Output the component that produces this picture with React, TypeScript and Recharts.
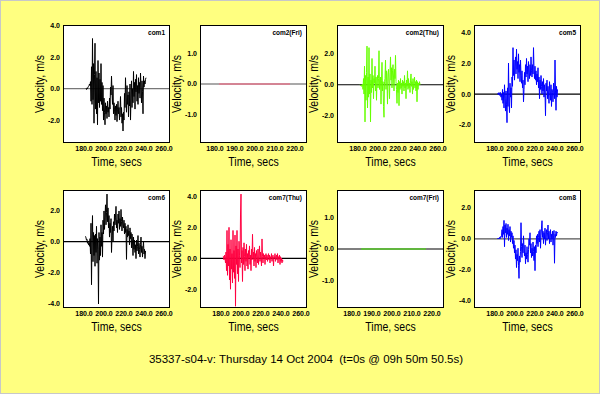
import React from 'react';
import { LineChart, Line, XAxis, YAxis, ReferenceLine, CartesianGrid } from 'recharts';

// sampled traces: start time (s), sample step (s), velocity values (m/s)
const DT = 0.5;

const com1Start = 182;
const com1 = [
  0, -0.05, 0.05, 0, 0.1, 0.15, 0.2, 0.3, 0.2, 0.45,
  -0.8, 1.4, -1.0, 3.2, -0.7, 1.6, -2.2, 0.9, 2.9, -1.3,
  1.1, -1.6, 0.7, -2.3, 1.8, -0.9, 1.0, -1.2, 0.6, -0.8,
  1.6, -1.0, 0.4, -1.4, 0.2, -2.0, -0.6, -1.5, -2.3, -0.9,
  -1.6, -1.1, -1.9, -0.8, -1.5, -1.2, -1.8, -0.6, -1.3, 0.1,
  -0.4, 0.8, -0.2, -1.0, 0.2, -1.6, -0.9, -1.3, -2.0, -1.1,
  -1.7, -1.0, -2.1, -1.3, -0.8, -1.6, -1.2, -2.0, -1.4, -0.5,
  -1.8, -1.2, -2.2, -1.6, -2.7, -1.5, -2.0, -0.3, -1.2, 0.7,
  -0.6, -1.5, 0.2, -1.0, -0.4, -1.8, -0.2, -1.1, 0.3, -2.0,
  -0.6, 0.5, -1.2, 0.0, -0.9, 1.1, -0.5, 0.4, -1.3, 0.6,
  -0.2, 0.9, -0.8, 0.2, -1.0, 0.7, -0.3, 0.4, -0.6, 1.0,
  0.1, -0.9, 0.5, -0.2, -1.6, 0.8, 0.1, 0.5, 0.3, 0.6,
  0.7,
];

const com2FriTimes = [182, 217.5];
const com2Fri = [0, 0];

const com2ThuStart = 182;
const com2Thu = [
  0, -0.05, -0.05, -0.1, 0, 0.05, -0.3, 0.4, -0.6, 1.2,
  -2.4, 0.6, -1.0, 0.8, 2.5, -1.5, 0.5, -0.8, 2.4, -0.6,
  0.7, -2.4, 0.3, -0.5, 1.7, -0.2, 0.6, -0.9, 0.4, 0.1,
  1.2, -0.4, 0.5, -1.0, 0.3, 0.6, -0.2, 0.4, 2.2, -0.3,
  0.1, 0.5, -1.25, 0.3, 1.45, -0.4, 0.2, -1.4, -2.1, 0.2,
  0.4, 1.6, -0.3, 0.9, 0.2, -1.25, 0.7, 1.0, 0.1, -0.9,
  0.8, 1.8, 0.3, 1.1, -0.2, 0.9, 1.3, 0.5, -0.4, 1.0,
  0.4, 1.9, 0.2, -0.3, -1.2, 0.1, -0.5, 0.3, -1.35, 0.2,
  -0.3, 0.4, -0.2, 0.1, -0.6, 0.3, -0.1, 0.2, -0.4, 0.6,
  -0.2, 0.1, -0.9, 0.3, -0.1, 0.9, -0.3, 0.4, -0.2, 0.1,
  -0.5, 0.3, 0.7, -0.1, 0.2, -0.6, 0.4, -0.3, 0.1, 0.5,
  -0.2, 0.2, -0.4, 0.3, -1.1, 0.2, -0.3, 0.1, 0.0, 0.2,
  0,
];

const com5Start = 182.5;
const com5 = [
  0, 0.05, -0.05, 0.1, 0, -0.1, 0.1, -0.2, 0, -0.4,
  0.3, -0.6, 0.1, -0.9, 0.6, -0.3, -1.1, 0.2, -0.7, -1.85,
  0.4, -0.8, 2.0, -0.5, -1.2, 0.7, -0.2, 0.4, -0.9, 1.1,
  0.5, 3.0, 1.2, 2.2, 0.9, 1.8, 2.4, 1.3, 2.9, 1.6,
  2.1, 1.0, 2.6, 1.4, 1.9, 0.8, 2.2, 1.2, 0.7, 1.5,
  0.4, 0.9, -0.5, 0.3, 1.4, 0.6, 1.9, 1.1, 2.3, 1.3,
  1.8, 0.8, 2.1, 1.4, 1.0, 1.9, 1.2, 2.4, 1.5, 1.1,
  1.9, 1.3, 3.0, 1.6, 1.0, 1.8, 0.9, 1.5, 0.6, 1.3,
  0.8, 1.7, 0.4, 1.1, -0.3, 0.9, 0.3, 1.2, 0.5, 0.0,
  0.8, 0.2, 1.0, -0.2, 0.6, 0.1, -1.4, 0.7, 0.2, 0.9,
  -0.3, 0.5, 0.0, -0.6, 0.8, 0.2, -0.4, 0.6, -0.8, 0.3,
  0.1, -0.5, 0.7, 0.0, -0.3, 2.2, 0.2, -1.05, 0.5, -0.2,
  0.3,
];

const com6Start = 181.5;
const com6 = [
  0.35, 0.25, 0.1, 0.15, -0.1, 0.05, -0.2, -0.1, -0.3, 0.2,
  -0.8, 1.2, -2.8, 0.3, 1.7, -1.3, 0.6, -0.9, 0.4, -1.6,
  0.5, -0.7, 1.0, -1.4, 0.2, -0.5, -4.05, 0.6, -1.2, 0.3,
  -0.9, 1.1, -0.3, 0.6, -1.0, 1.4, 0.5, 2.0, 0.8, 1.6,
  2.4, 1.1, 1.9, 3.1, 1.3, 2.2, 0.9, 1.7, 0.3, 1.2,
  0.6, 1.5, -0.7, 0.4, 1.0, 0.0, 1.3, 0.7, 1.8, 1.1,
  1.6, 2.3, 0.9, 1.4, 0.6, 1.8, 1.2, 2.0, 0.8, 1.5,
  1.0, 2.1, 1.3, 0.7, 1.6, 1.1, 0.9, 1.4, 0.5, 1.2,
  0.6, 1.0, -1.15, 0.8, 0.3, 1.1, 0.4, 0.7, -0.2, 0.9,
  0.2, 0.6, -0.4, 0.5, 0.0, -0.9, 0.3, -0.5, 0.1, -0.7,
  -0.2, -1.1, 0.1, -0.6, -0.3, 0.4, -0.8, -0.1, -0.5, -1.0,
  -0.2, 0.3, -0.7, -0.3, -1.0, -0.4, 0.0, -0.8, -0.5, -1.1,
  -0.6,
];

const com7ThuStart = 182;
const com7Thu = [
  0.15, 0.1, -0.1, 0.2, 0.0, -0.3, 0.4, -0.8, 1.8, -1.1,
  0.9, -0.5, 2.0, -1.4, 0.6, -2.0, 1.2, -0.7, 0.3, -1.6,
  1.8, -0.9, 0.5, -1.3, 1.5, -3.1, 0.8, -0.4, 1.8, -1.0,
  0.6, -1.5, 1.1, 0.2, -0.6, 2.8, 4.15, -0.3, 0.5, -1.5,
  0.7, -0.4, 1.0, 0.1, -0.8, 0.6, -0.2, 0.9, -0.5, 0.3,
  -0.7, 0.5, 0.0, 0.8, -0.4, 0.2, -0.8, 0.6, -0.1, 1.55,
  0.0, 0.4, -0.5, 0.7, -0.2, 0.3, -0.6, 0.5, 0.1, -0.3,
  0.6, -0.4, 0.2, 0.8, -0.2, 0.4, 0.0, -0.5, 1.25, 0.1,
  -0.3, 0.3, 0.0, 0.2, -0.4, 0.1, 0.3, -0.1, 0.2, -0.2,
  0.1, 0.3, -0.1, 0.2, -0.3, 0.1, 0.0, 0.3, -0.2, 0.1,
  0.2, -0.5, 0.1, 0.0, 0.3, -0.2, 0.1, 0.2, -0.1, 0.3,
  -0.3, 0.1, 0.0, 0.2, -0.4, 0.1, -0.2, 0.0, -0.3, -0.1,
  -0.2,
];

const com7FriTimes = [184.5, 217];
const com7Fri = [0, 0];

const com8Start = 182.5;
const com8 = [
  0, 0.05, 0, 0.05, 0.1, 0, 0.15, 0.1, 0.2, 0.6,
  0.1, 0.8, 0.3, 1.2, -0.5, 0.9, 0.4, 1.0, 0.1, 0.7,
  0.3, 0.95, -0.1, 0.6, 0.2, 0.8, -0.2, 0.5, 0.1, 0.4,
  -0.3, 0.2, -0.6, -0.1, -0.9, -0.4, -1.3, -0.7, -1.85, -1.0,
  -1.4, -0.6, -1.7, -2.55, -1.1, -1.5, -0.8, 1.05, -0.5, -1.2,
  -0.3, -0.9, 0.2, -0.6, -1.1, -0.4, -1.6, -0.9, -1.3, -0.5,
  -1.0, -1.5, -0.7, 0.0, -0.4, 0.4, -0.9, -0.3, -1.2, -0.6,
  -1.1, -0.2, -0.8, -1.4, -0.5, -2.05, -0.4, -0.9, 0.2, -0.3,
  0.3, -0.5, 0.1, 0.5, -0.2, 0.6, -0.6, 0.2, 0.7, 1.18,
  0.1, 0.5, -0.3, 0.4, 0.0, 0.7, -0.4, 0.3, 0.6, -0.1,
  0.4, 0.9, 0.0, 0.5, -0.3, 0.2, 0.6, -0.2, 0.3, 0.0,
  0.5, -0.4, 0.2, 0.55, -1.57, 0.3, 0.1, 0.5, 0.2, 0.45,
  0.4,
];

const wideTicks = [180, 200, 220, 240, 260];
const narrowTicks = [180, 190, 200, 210, 220];

const sampled = (start: number, vals: number[]) =>
  vals.map((v, i) => ({ t: start + i * DT, v }));
const paired = (times: number[], vals: number[]) =>
  vals.map((v, i) => ({ t: times[i], v }));

const PW = 105;
const PH = 116;
const YW = 40;
const XH = 14;
const MT = 6; // room above the plot for the top tick label
const MR = 14; // room on the right for the last x tick label
const FONT = "'Liberation Sans', Arial, sans-serif";
const TINY = 0.01; // mirror axes only draw tick marks, take no room

type PanelProps = {
  left: number;
  top: number;
  name: string;
  data: { t: number; v: number }[];
  color: string;
  xDomain: [number, number];
  xTicks: number[];
  yDomain: [number, number];
  yTicks: number[];
  zeroColor?: string;
};

function Panel({ left, top, name, data, color, xDomain, xTicks, yDomain, yTicks, zeroColor = '#000' }: PanelProps) {
  const tickStyle = { fontSize: 7, fill: '#000', fontFamily: FONT, fontWeight: 'bold' as const };
  return (
    <>
      <div style={{ position: 'absolute', left: left - YW, top: top - MT }}>
        <LineChart
          width={YW + PW + MR}
          height={MT + PH + XH}
          data={data}
          margin={{ top: MT, right: MR, left: 0, bottom: 0 }}
        >
          <XAxis xAxisId="bm" dataKey="t" type="number" orientation="bottom" mirror height={TINY}
            domain={xDomain} ticks={xTicks} tick={false} tickSize={4} axisLine={false}
            tickLine={{ stroke: '#000' }} allowDataOverflow />
          <XAxis xAxisId="top" dataKey="t" type="number" orientation="top" mirror height={TINY}
            domain={xDomain} ticks={xTicks} tick={false} tickSize={4} axisLine={false}
            tickLine={{ stroke: '#000' }} allowDataOverflow />
          <XAxis xAxisId="b" dataKey="t" type="number" orientation="bottom" height={XH}
            domain={xDomain} ticks={xTicks} tickSize={2} tickMargin={2} tickLine={false}
            axisLine={false} tick={tickStyle} interval={0}
            tickFormatter={(x: number) => x.toFixed(1)} allowDataOverflow />
          <YAxis yAxisId="lm" type="number" orientation="left" mirror width={TINY}
            domain={yDomain} ticks={yTicks} tick={false} tickSize={4} axisLine={false}
            tickLine={{ stroke: '#000' }} allowDataOverflow />
          <YAxis yAxisId="r" type="number" orientation="right" mirror width={TINY}
            domain={yDomain} ticks={yTicks} tick={false} tickSize={4} axisLine={false}
            tickLine={{ stroke: '#000' }} allowDataOverflow />
          <YAxis yAxisId="l" type="number" orientation="left" width={YW}
            domain={yDomain} ticks={yTicks} tickSize={2} tickMargin={2} tickLine={false}
            axisLine={false} tick={tickStyle} interval={0}
            tickFormatter={(y: number) => y.toFixed(1)} allowDataOverflow />
          <CartesianGrid xAxisId="b" yAxisId="l" fill="#fff" fillOpacity={1}
            horizontal={false} vertical={false} />
          <ReferenceLine xAxisId="b" yAxisId="l" y={0} stroke={zeroColor} strokeWidth={1.2} />
          <Line xAxisId="b" yAxisId="l" dataKey="v" type="linear" stroke={color} strokeWidth={1}
            dot={false} isAnimationActive={false} />
        </LineChart>
      </div>
      {/* plot frame */}
      <div style={{
        position: 'absolute', left: left - 1, top: top - 1, width: PW, height: PH,
        border: '1px solid #000', pointerEvents: 'none',
      }} />
      <div style={{
        position: 'absolute', left: left, width: PW - 4, top: top + 3, textAlign: 'right',
        fontFamily: FONT, fontWeight: 'bold', fontSize: 6.5, lineHeight: '8px',
      }}>{name}</div>
      <div style={{
        position: 'absolute', left: left, width: PW, top: top + PH + 13, textAlign: 'center',
        fontFamily: FONT, fontSize: 12.5, lineHeight: '15px', transform: 'scaleX(0.84)',
      }}>Time, secs</div>
      <div style={{
        position: 'absolute', left: left - 24 - 60, top: top + PH / 2 - 8, width: 120, height: 16,
        textAlign: 'center', transform: 'rotate(-90deg) scaleX(0.84)', transformOrigin: '60px 8px',
        fontFamily: FONT, fontSize: 12.5, lineHeight: '16px',
      }}>Velocity, m/s</div>
    </>
  );
}

const WIDE: [number, number] = [160, 265];
const NARROW: [number, number] = [173, 225.5];

export default function App() {
  return (
    <div style={{
      position: 'absolute', left: 0, top: 0, width: 598, height: 392,
      background: '#ffff80', border: '1px solid #c8c8c8', overflow: 'hidden',
    }}>
      <Panel left={63} top={25} name="com1" data={sampled(com1Start, com1)} color="#000"
        xDomain={WIDE} xTicks={wideTicks} yDomain={[-3.4, 4]} yTicks={[-2, 0, 2, 4]} zeroColor="#777" />
      <Panel left={200} top={25} name="com2(Fri)" data={paired(com2FriTimes, com2Fri)} color="#ff6080"
        xDomain={NARROW} xTicks={narrowTicks} yDomain={[-1.88, 1.88]} yTicks={[-1, 0, 1]} zeroColor="#555" />
      <Panel left={337} top={25} name="com2(Thu)" data={sampled(com2ThuStart, com2Thu)} color="#66ff00"
        xDomain={WIDE} xTicks={wideTicks} yDomain={[-3.7, 3.8]} yTicks={[-2, 0, 2]} />
      <Panel left={474} top={25} name="com5" data={sampled(com5Start, com5)} color="#0000ff"
        xDomain={WIDE} xTicks={wideTicks} yDomain={[-3.1, 4.4]} yTicks={[-2, 0, 2, 4]} />
      <Panel left={63} top={190} name="com6" data={sampled(com6Start, com6)} color="#000"
        xDomain={WIDE} xTicks={wideTicks} yDomain={[-4.25, 3.3]} yTicks={[-4, -2, 0, 2]} />
      <Panel left={200} top={190} name="com7(Thu)" data={sampled(com7ThuStart, com7Thu)} color="#ff0040"
        xDomain={WIDE} xTicks={wideTicks} yDomain={[-3.15, 4.35]} yTicks={[-2, 0, 2, 4]} />
      <Panel left={337} top={190} name="com7(Fri)" data={paired(com7FriTimes, com7Fri)} color="#44ee00"
        xDomain={NARROW} xTicks={narrowTicks} yDomain={[-1.87, 1.87]} yTicks={[-1, 0, 1]} />
      <Panel left={474} top={190} name="com8" data={sampled(com8Start, com8)} color="#0000ff"
        xDomain={WIDE} xTicks={wideTicks} yDomain={[-4.4, 3.1]} yTicks={[-4, -2, 0, 2]} zeroColor="#555" />
      <div style={{
        position: 'absolute', left: 0, width: 610, top: 350, textAlign: 'center',
        fontFamily: FONT, fontSize: 11.5, lineHeight: '16px', whiteSpace: 'pre',
      }}>{'35337-s04-v: Thursday 14 Oct 2004  (t=0s @ 09h 50m 50.5s)'}</div>
    </div>
  );
}
